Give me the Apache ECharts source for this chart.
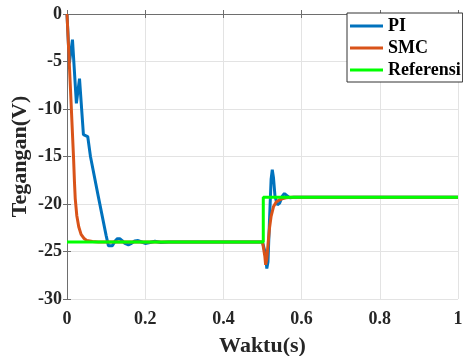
<!DOCTYPE html>
<html>
<head>
<meta charset="utf-8">
<script src="https://cdn.jsdelivr.net/npm/echarts@6/dist/echarts.min.js"></script>
<style>
  html, body { margin: 0; padding: 0; background: #fff; }
  #chart { width: 463px; height: 356px; }
</style>
</head>
<body>
<div id="chart"></div>
<script>
// PI response (time in s, voltage in V)
const piT = [0, 0.006, 0.014, 0.024, 0.032, 0.042, 0.053, 0.06, 0.08, 0.1, 0.106, 0.111, 0.116, 0.123, 0.129, 0.135, 0.141, 0.148, 0.157, 0.165, 0.173, 0.182, 0.191, 0.2, 0.212, 0.225, 0.24, 0.26, 0.5,
  0.505, 0.508, 0.511, 0.514, 0.518, 0.522, 0.525, 0.528, 0.532, 0.538, 0.544, 0.55, 0.556, 0.562, 0.57, 0.58, 1];
const piV = [0, -5.2, -2.7, -9.4, -6.8, -12.7, -12.9, -15.0, -19.2, -23.3, -24.4, -24.6, -24.4, -23.9, -23.65, -23.65, -23.85, -24.15, -24.3, -24.15, -23.9, -23.85, -24.0, -24.15, -24.05, -23.92, -24.05, -24.0, -24.0,
  -24.1, -25.3, -26.8, -26.1, -21.6, -17.4, -16.4, -17.2, -19.2, -20.1, -19.9, -19.2, -18.9, -19.1, -19.35, -19.3, -19.3];

// SMC response
const smcT = [0, 0.009, 0.017, 0.019, 0.021, 0.025, 0.03, 0.036, 0.043, 0.051, 0.065, 0.08, 0.5,
  0.503, 0.506, 0.508, 0.511, 0.514, 0.518, 0.522, 0.528, 0.535, 0.542, 0.55, 0.56, 0.575, 1];
const smcV = [0, -8.0, -15.4, -17.6, -19.4, -21.2, -22.4, -23.2, -23.6, -23.85, -23.95, -24.0, -24.0,
  -24.1, -25.5, -26.4, -25.8, -24.3, -22.5, -21.3, -20.3, -19.8, -19.6, -19.45, -19.35, -19.3, -19.3];

// Reference step
const refT = [0, 0.502, 0.502, 1];
const refV = [-24, -24, -19.3, -19.3];

const xTicks = { min: 0, max: 1, interval: 0.2 };
const yTicks = { min: -30, max: 0, interval: 5 };

const pairs = (t, v) => t.map((x, i) => [x, v[i]]);

const font = "'Liberation Serif', 'Times New Roman', serif";
const axisGray = '#6e6e6e';
const gridGray = '#e3e3e3';

const chart = echarts.init(document.getElementById('chart'));
chart.setOption({
  animation: false,
  backgroundColor: '#fff',
  grid: { left: 67, right: 5, top: 14, bottom: 57, containLabel: false, outerBoundsMode: 'none' },
  legend: {
    orient: 'vertical',
    left: 347,
    top: 13,
    padding: [3, 2, 2, 3],
    itemGap: 2,
    itemWidth: 33,
    itemHeight: 3,
    icon: 'rect',
    backgroundColor: '#fff',
    borderColor: '#333',
    borderWidth: 1,
    borderRadius: 0,
    textStyle: { fontFamily: font, fontWeight: 'bold', fontSize: 18, color: '#000', lineHeight: 20 },
    data: ['PI', 'SMC', 'Referensi']
  },
  xAxis: [
    {
      type: 'value', ...xTicks, position: 'bottom',
      name: 'Waktu(s)', nameLocation: 'middle', nameGap: 36,
      nameTextStyle: { fontFamily: font, fontWeight: 'bold', fontSize: 22, color: '#262626' },
      axisLine: { lineStyle: { color: axisGray, width: 1 } },
      axisTick: { inside: true, length: 4, lineStyle: { color: axisGray } },
      axisLabel: { fontFamily: font, fontWeight: 'bold', fontSize: 18, color: '#262626', margin: 11 },
      splitLine: { show: true, lineStyle: { color: gridGray, width: 1 } }
    },
    {
      type: 'value', ...xTicks, position: 'top',
      axisLine: { lineStyle: { color: axisGray, width: 1 } },
      axisTick: { inside: true, length: 4, lineStyle: { color: axisGray } },
      axisLabel: { show: false },
      splitLine: { show: false }
    }
  ],
  yAxis: [
    {
      type: 'value', ...yTicks, position: 'left',
      name: 'Tegangan(V)', nameLocation: 'middle', nameGap: 36, nameMoveOverlap: false,
      nameTextStyle: { fontFamily: font, fontWeight: 'bold', fontSize: 22, color: '#262626' },
      axisLine: { show: true, lineStyle: { color: axisGray, width: 1 } },
      axisTick: { show: true, inside: true, length: 4, lineStyle: { color: axisGray } },
      axisLabel: { fontFamily: font, fontWeight: 'bold', fontSize: 18, color: '#262626', margin: 5 },
      splitLine: { show: true, lineStyle: { color: gridGray, width: 1 } }
    },
    {
      type: 'value', ...yTicks, position: 'right',
      axisLine: { show: true, lineStyle: { color: axisGray, width: 1 } },
      axisTick: { show: true, inside: true, length: 4, lineStyle: { color: axisGray } },
      axisLabel: { show: false },
      splitLine: { show: false }
    }
  ],
  series: [
    {
      name: 'PI', type: 'line', data: pairs(piT, piV), showSymbol: false,
      itemStyle: { color: '#0072BD' }, lineStyle: { color: '#0072BD', width: 3 }, z: 2
    },
    {
      name: 'SMC', type: 'line', data: pairs(smcT, smcV), showSymbol: false,
      itemStyle: { color: '#D95319' }, lineStyle: { color: '#D95319', width: 3 }, z: 3
    },
    {
      name: 'Referensi', type: 'line', data: pairs(refT, refV), showSymbol: false,
      itemStyle: { color: '#00FF00' }, lineStyle: { color: '#00FF00', width: 3 }, z: 4
    }
  ]
});
</script>
</body>
</html>
